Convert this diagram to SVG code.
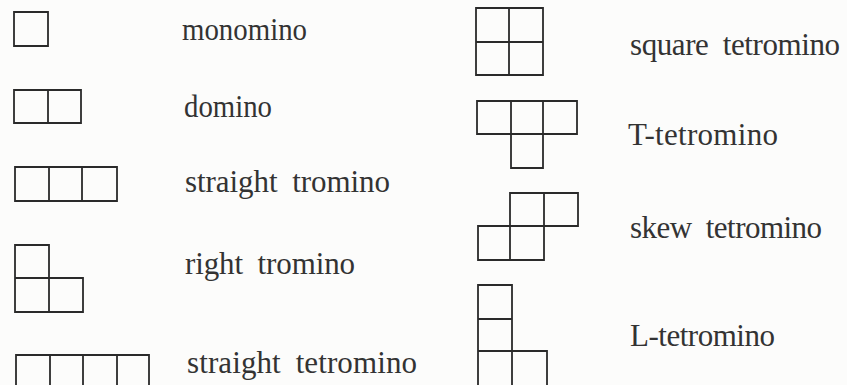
<svg xmlns="http://www.w3.org/2000/svg" width="847" height="385" viewBox="0 0 847 385">
<style>
.c{fill:none;stroke:#2a2a2a;stroke-width:1.8;stroke-linejoin:miter;stroke-linecap:square}
.t{font-family:'Liberation Serif','Times New Roman',serif;font-size:31px;fill:#333;word-spacing:7px}
</style>
<rect width="847" height="385" fill="#fcfcfb"/>
<g id="monomino">
<path class="c" d="M14 12H48V46H14Z"/>
<text class="t" x="182" y="40" textLength="125" lengthAdjust="spacingAndGlyphs">monomino</text>
</g>
<g id="domino">
<path class="c" d="M14 90H81V123H14Z M48 90V123"/>
<text class="t" x="184" y="117" textLength="88" lengthAdjust="spacingAndGlyphs">domino</text>
</g>
<g id="straight-tromino">
<path class="c" d="M15 167H117V201H15Z M49 167V201 M82 167V201"/>
<text class="t" x="185" y="192" textLength="205" lengthAdjust="spacing">straight tromino</text>
</g>
<g id="right-tromino">
<path class="c" d="M15 245H49V312H15Z M15 278H83V312H49"/>
<text class="t" x="185" y="274" textLength="170" lengthAdjust="spacing">right tromino</text>
</g>
<g id="straight-tetromino">
<path class="c" d="M16 389V355H149V389 M50 355V389 M83 355V389 M117 355V389"/>
<text class="t" x="187" y="373" textLength="230" lengthAdjust="spacing">straight tetromino</text>
</g>
<g id="square-tetromino">
<path class="c" d="M476 8H543V75H476Z M509 8V75 M476 42H543"/>
<text class="t" x="630" y="55" textLength="210" lengthAdjust="spacing">square tetromino</text>
</g>
<g id="T-tetromino">
<path class="c" d="M477 101H577V134H477Z M511 101V168H543V101"/>
<text class="t" x="628" y="145" textLength="150" lengthAdjust="spacing">T-tetromino</text>
</g>
<g id="skew-tetromino">
<path class="c" d="M510 193H578V226H478V260H544V193 M510 193V260"/>
<text class="t" x="630" y="238" textLength="192" lengthAdjust="spacing">skew tetromino</text>
</g>
<g id="L-tetromino">
<path class="c" d="M478 285H512V389 M478 285V389 M478 319H512 M478 351H547V389"/>
<text class="t" x="630" y="346" textLength="145" lengthAdjust="spacing">L-tetromino</text>
</g>
<g id="connectors"/>
</svg>
